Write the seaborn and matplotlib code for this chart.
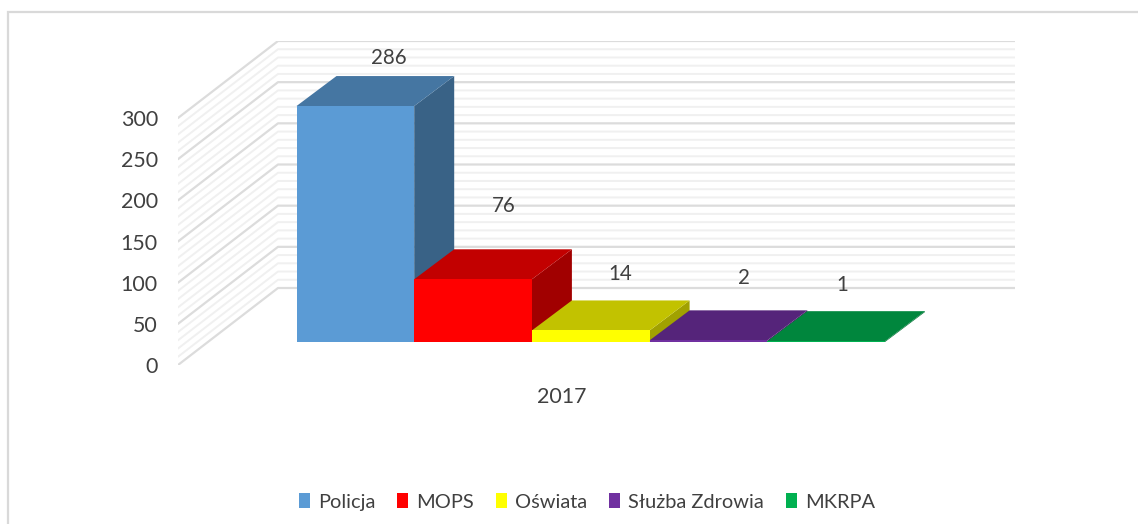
import matplotlib
matplotlib.use('Agg')
import matplotlib.pyplot as plt
from matplotlib.colors import to_rgb
from matplotlib.patches import Patch, Polygon, Rectangle
import pandas as pd
import seaborn as sns

# ---- data
year = ['2017']
services = ['Policja', 'MOPS', 'Oświata', 'Służba Zdrowia', 'MKRPA']
values = [286, 76, 14, 2, 1]
colors = ['#5b9bd5', '#ff0000', '#ffff00', '#7030a0', '#00b050']
y_ticks = [0, 50, 100, 150, 200, 250, 300]
grid_minor = list(range(0, 310, 10))

# hand tuned label shifts (pixels from the bar top centre)
label_shift = [(33, 48), (31, 73), (29, 56), (35, 62), (16, 56)]

W, H = 1138, 524
sns.set_theme(style='white')
plt.rcParams['font.family'] = ['Lato', 'DejaVu Sans']
TXT = '#404040'

fig = plt.figure(figsize=(W / 100, H / 100), dpi=100)


def px_axes(left, right, top, bottom):
    return fig.add_axes([left / W, 1 - bottom / H, (right - left) / W, (bottom - top) / H])


# outer frame, runs off the right and bottom edge
fig.add_artist(Rectangle((8 / W, -0.1), 1.2, 1.1 - 12 / H, transform=fig.transFigure,
                         fill=False, ec='#d9d9d9', lw=1.6))

# ---- back wall and floor
ax_wall = px_axes(178, 1015, 41, 365)
px_per_unit = 247 / 300
rise = 77 / px_per_unit
ax_wall.set_xlim(0, 837)
ax_wall.set_ylim(0, 324 / px_per_unit)
for v in grid_minor:
    major = v % 50 == 0
    ax_wall.plot([0, 100, 837], [v, v + rise, v + rise],
                 color='#dcdcdc' if major else '#f0f0f0',
                 lw=1.6 if major else 1.4, zorder=2 if major else 1)
ax_wall.set_yticks(y_ticks)
ax_wall.set_yticklabels([str(t) for t in y_ticks], fontsize=15.4, color=TXT)
ax_wall.tick_params(axis='y', length=0, pad=14.5)
ax_wall.set_xticks([])
sns.despine(ax=ax_wall, left=True, bottom=True)

# ---- bars
ax_bar = px_axes(296.5, 885, 12, 342)
ax_bar.patch.set_alpha(0)
df = pd.DataFrame({'rok': year * len(services), 'sluzba': services, 'liczba': values})
sns.barplot(data=df, x='rok', y='liczba', hue='sluzba', hue_order=services,
            palette=colors, width=1, gap=0, saturation=1, legend=False,
            linewidth=0, ax=ax_bar)
ax_bar.set_xlim(-0.5, 0.5)
ax_bar.set_ylim(0, 330 / 0.825)
ax_bar.axis('off')

# depth of a bar, 40 px right and 30 px back
dx = 40 / 588.5
dy = 30 / 0.825


def shade(col, f):
    return tuple(c * f for c in to_rgb(col))


for i, (p, col, val) in enumerate(zip(ax_bar.patches, colors, values)):
    x0, x1 = p.get_x(), p.get_x() + p.get_width()
    h = p.get_height()
    p.set_zorder(i + 3.5)
    ax_bar.add_patch(Polygon([(x1, 0), (x1 + dx, dy), (x1 + dx, h + dy), (x1, h)],
                             fc=shade(col, 0.63), lw=0, zorder=i + 3, clip_on=False))
    ax_bar.add_patch(Polygon([(x0, h), (x0 + dx, h + dy), (x1 + dx, h + dy), (x1, h)],
                             fc=shade(col, 0.76), lw=0, zorder=i + 3, clip_on=False))
    sx, sy = label_shift[i]
    ax_bar.annotate(str(val), xy=((x0 + x1) / 2, h), xytext=(sx, sy), textcoords='offset pixels',
                    ha='center', va='center', fontsize=14.8, color=TXT, zorder=20)

ax_bar.annotate(year[0], xy=(0, 0), xytext=(-29, -55), textcoords='offset pixels',
                ha='center', va='center', fontsize=15.4, color=TXT, annotation_clip=False)

# ---- legend
handles = [Patch(fc=c, lw=0, label=s) for c, s in zip(colors, services)]
fig.legend(handles=handles, ncol=5, loc='center', bbox_to_anchor=(587 / W, 1 - 502 / H),
           frameon=False, fontsize=14.4, labelcolor=TXT, handlelength=0.55, handleheight=0.75,
           handletextpad=0.4, columnspacing=1.1)

plt.savefig('out.png', dpi=100)
plt.close()
